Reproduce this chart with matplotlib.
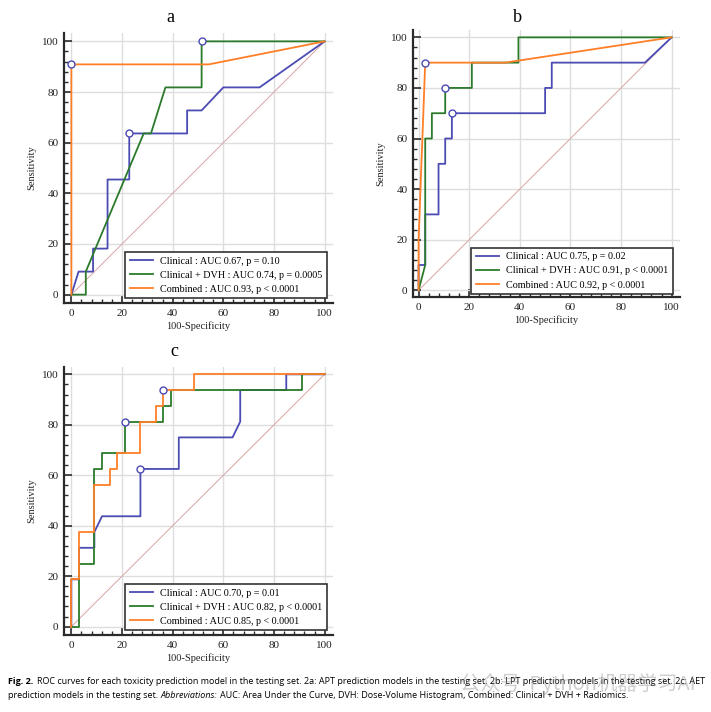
import matplotlib
matplotlib.use('Agg')
import matplotlib.pyplot as plt
from matplotlib.ticker import MultipleLocator

# ---- data (100-Specificity, Sensitivity) ----
panel_titles = ['a', 'b', 'c']

a_clin_x = [0, 2.86, 8.57, 8.57, 14.29, 14.29, 22.86, 22.86, 45.71, 45.71, 51.43, 60.0, 74.29, 100]
a_clin_y = [0, 9.09, 9.09, 18.18, 18.18, 45.45, 45.45, 63.64, 63.64, 72.73, 72.73, 81.82, 81.82, 100]
a_dvh_x = [0, 5.71, 5.71, 28.57, 31.43, 37.14, 51.43, 51.43, 100]
a_dvh_y = [0, 0, 9.09, 63.64, 63.64, 81.82, 81.82, 100, 100]
a_comb_x = [0, 0, 54.29, 100]
a_comb_y = [0, 90.91, 90.91, 100]
a_mark_x = [0, 51.43, 22.86]
a_mark_y = [90.91, 100, 63.64]
a_labels = ['Clinical : AUC 0.67, p = 0.10',
            'Clinical + DVH : AUC 0.74, p = 0.0005',
            'Combined : AUC 0.93, p < 0.0001']

b_clin_x = [0, 0, 2.63, 2.63, 7.89, 7.89, 10.53, 10.53, 13.16, 13.16, 50.0, 50.0, 52.63, 52.63, 89.47, 100]
b_clin_y = [0, 10, 10, 30, 30, 50, 50, 60, 60, 70, 70, 80, 80, 90, 90, 100]
b_dvh_x = [0, 2.63, 2.63, 5.26, 5.26, 10.53, 10.53, 21.05, 21.05, 39.47, 39.47, 100]
b_dvh_y = [0, 10, 60, 60, 70, 70, 80, 80, 90, 90, 100, 100]
b_comb_x = [0, 0, 2.63, 34.21, 100]
b_comb_y = [0, 20, 90, 90, 100]
b_mark_x = [2.63, 10.53, 13.16]
b_mark_y = [90, 80, 70]
b_labels = ['Clinical : AUC 0.75, p = 0.02',
            'Clinical + DVH : AUC 0.91, p < 0.0001',
            'Combined : AUC 0.92, p < 0.0001']

c_clin_x = [0, 0, 3.03, 3.03, 9.09, 9.09, 12.12, 27.27, 27.27, 42.42, 42.42, 63.64, 66.67, 66.67, 84.85, 84.85, 100]
c_clin_y = [0, 18.75, 18.75, 31.25, 31.25, 37.5, 43.75, 43.75, 62.5, 62.5, 75, 75, 81.25, 93.75, 93.75, 100, 100]
c_dvh_x = [0, 3.03, 3.03, 9.09, 9.09, 12.12, 12.12, 21.21, 21.21, 36.36, 36.36, 39.39, 39.39, 90.91, 90.91, 100]
c_dvh_y = [0, 0, 25, 25, 62.5, 62.5, 68.75, 68.75, 81.25, 81.25, 87.5, 87.5, 93.75, 93.75, 100, 100]
c_comb_x = [0, 0, 3.03, 3.03, 9.09, 9.09, 15.15, 15.15, 18.18, 18.18, 27.27, 27.27, 33.33, 33.33,
            36.36, 36.36, 48.48, 48.48, 100]
c_comb_y = [0, 18.75, 18.75, 37.5, 37.5, 56.25, 56.25, 62.5, 62.5, 68.75, 68.75, 81.25, 81.25, 87.5,
            87.5, 93.75, 93.75, 100, 100]
c_mark_x = [21.21, 36.36, 27.27]
c_mark_y = [81.25, 93.75, 62.5]
c_labels = ['Clinical : AUC 0.70, p = 0.01',
            'Clinical + DVH : AUC 0.82, p < 0.0001',
            'Combined : AUC 0.85, p < 0.0001']

caption_1 = ('ROC curves for each toxicity prediction model in the testing set. 2a: APT prediction models '
             'in the testing set. 2b: LPT prediction models in the testing set. 2c: AET')
caption_2a = 'prediction models in the testing set.'
caption_2b = 'Abbreviations:'
caption_2c = 'AUC: Area Under the Curve, DVH: Dose-Volume Histogram, Combined: Clinical + DVH + Radiomics.'

BLUE, GREEN, ORANGE = '#4b4bb4', '#2b7a2b', '#ff7f27'
W, H = 711, 712
SERIF = 'Liberation Serif'


def px_axes(fig, left, top, right, bottom):
    return fig.add_axes([left / W, 1 - bottom / H, (right - left) / W, (bottom - top) / H])


def roc_panel(ax, curves, marks, labels, xlim, ylim, legend_anchor):
    ax.set_xlim(*xlim)
    ax.set_ylim(*ylim)
    ax.set_axisbelow(True)
    ax.grid(True, color='#dedede', lw=1.0)
    ax.plot([0, 100], [0, 100], color='#d8a4a4', lw=0.7)
    for (x, y), col, lab in zip(curves, [BLUE, GREEN, ORANGE], labels):
        ax.plot(x, y, color=col, lw=1.3, label=lab)
    ax.plot(marks[0], marks[1], 'o', ms=5, mfc='white', mec=BLUE, mew=1.0, ls='none')

    for s in ['top', 'right']:
        ax.spines[s].set_visible(False)
    for s in ['left', 'bottom']:
        ax.spines[s].set_linewidth(1.6)
        ax.spines[s].set_color('#2a2a2a')
    ax.set_xticks(range(0, 101, 20))
    ax.set_yticks(range(0, 101, 20))
    ax.xaxis.set_minor_locator(MultipleLocator(4))
    ax.yaxis.set_minor_locator(MultipleLocator(4))
    ax.tick_params(which='major', direction='in', length=6, width=1.2, color='#2a2a2a',
                   labelsize=8, pad=4, labelcolor='#222')
    ax.tick_params(which='minor', direction='in', length=3, width=1.0, color='#2a2a2a')
    for t in ax.get_xticklabels() + ax.get_yticklabels():
        t.set_family(SERIF)
    ax.set_xlabel('100-Specificity', family=SERIF, fontsize=7.5, labelpad=2.5, color='#222')
    ax.set_ylabel('Sensitivity', family=SERIF, fontsize=7.5, labelpad=4, color='#222')

    leg = ax.legend(loc='lower right', bbox_to_anchor=legend_anchor, bbox_transform=ax.transData,
                    borderaxespad=0, fancybox=False, framealpha=1, edgecolor='#333',
                    prop={'family': SERIF, 'size': 7.3}, handlelength=2.3, handletextpad=0.7,
                    labelspacing=0.5, borderpad=0.45)
    leg.get_frame().set_linewidth(1.2)


fig = plt.figure(figsize=(W / 100, H / 100), dpi=100)

ax_a = px_axes(fig, 64, 33, 333, 303)
roc_panel(ax_a, [(a_clin_x, a_clin_y), (a_dvh_x, a_dvh_y), (a_comb_x, a_comb_y)],
          (a_mark_x, a_mark_y), a_labels, (-2.9, 103.3), (-3.3, 103.3), (101, -1.5))

ax_b = px_axes(fig, 413, 30, 680, 297)
roc_panel(ax_b, [(b_clin_x, b_clin_y), (b_dvh_x, b_dvh_y), (b_comb_x, b_comb_y)],
          (b_mark_x, b_mark_y), b_labels, (-2.2, 103.3), (-2.65, 102.9), (100.5, -1.5))

ax_c = px_axes(fig, 64, 367, 333, 635)
roc_panel(ax_c, [(c_clin_x, c_clin_y), (c_dvh_x, c_dvh_y), (c_comb_x, c_comb_y)],
          (c_mark_x, c_mark_y), c_labels, (-2.9, 103.3), (-3.3, 102.9), (101, -1.5))

for lab, xp, yp in zip(panel_titles, [170, 517, 174], [18, 17, 352]):
    fig.text(xp / W, 1 - yp / H, lab, family=SERIF, fontsize=13, ha='center', va='center')

# caption below the panels
CAP = ['Open Sans', 'DejaVu Sans']
cap_size = 6.45
t1 = fig.text(8 / W, 1 - 682 / H, 'Fig. 2.', family=CAP, weight='bold', fontsize=cap_size, va='center')
fig.canvas.draw()
ax_a.annotate(caption_1, xy=(1, 0.5), xycoords=t1, xytext=(2.5, 0), textcoords='offset points',
              va='center', family=CAP, fontsize=cap_size, annotation_clip=False)
t2 = fig.text(8 / W, 1 - 695 / H, caption_2a, family=CAP, fontsize=cap_size, va='center')
t3 = ax_a.annotate(caption_2b, xy=(1, 0.5), xycoords=t2, xytext=(2.0, 0), textcoords='offset points',
                   va='center', family=CAP, style='italic', fontsize=cap_size, annotation_clip=False)
ax_a.annotate(caption_2c, xy=(1, 0.5), xycoords=t3, xytext=(2.0, 0), textcoords='offset points',
              va='center', family=CAP, fontsize=cap_size, annotation_clip=False)

# faint watermark over the caption
fig.text(460 / W, 1 - 684 / H, '公众号  Python机器学习AI', family=['Noto Sans CJK SC', 'DejaVu Sans'],
         fontsize=14.5, color='#888888', alpha=0.4, va='center')

fig.savefig('out.png', dpi=100)
